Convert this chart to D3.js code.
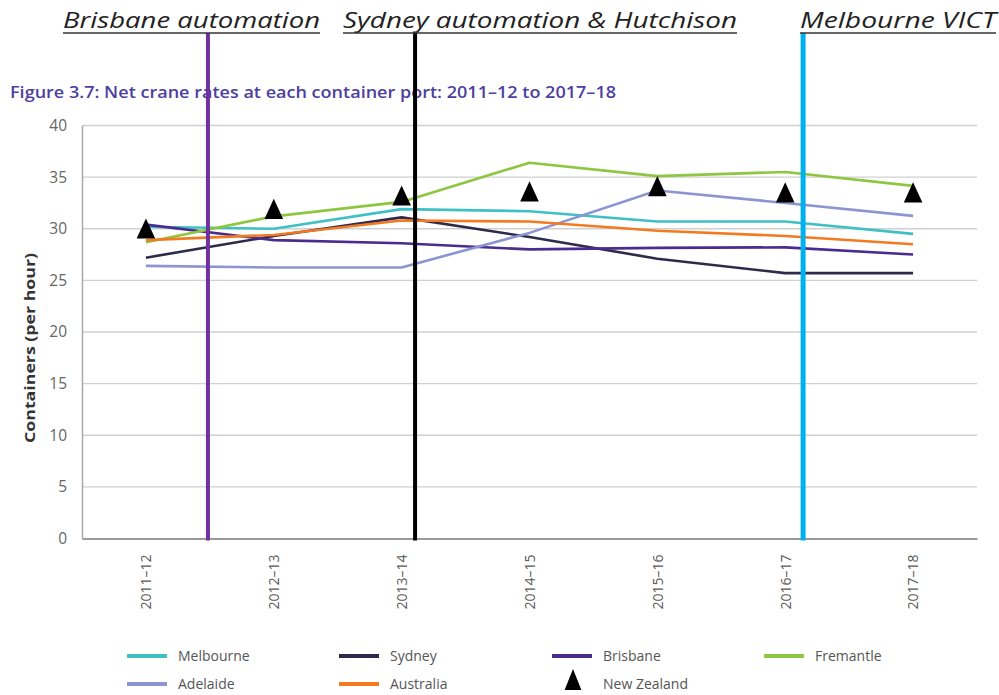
<!DOCTYPE html>
<html>
<head>
<meta charset="utf-8">
<script src="https://cdn.jsdelivr.net/npm/d3@7/dist/d3.min.js"></script>
<style>
  html, body { margin: 0; padding: 0; background: #fff; }
  svg { display: block; }
</style>
</head>
<body>
<svg id="chart" width="999" height="695"></svg>
<script>
// Financial years on the x axis
const years = ["2011–12", "2012–13", "2013–14", "2014–15", "2015–16", "2016–17", "2017–18"];

// Net crane rates (containers per hour) by port
const melbourne = [30.2, 30.0, 31.9, 31.7, 30.7, 30.7, 29.5];
const sydney    = [27.2, 29.3, 31.1, 29.2, 27.1, 25.7, 25.7];
const brisbane  = [30.4, 28.9, 28.6, 28.0, 28.15, 28.2, 27.5];
const fremantle = [28.7, 31.2, 32.6, 36.4, 35.1, 35.5, 34.15];
const adelaide  = [26.4, 26.25, 26.25, 29.6, 33.7, 32.5, 31.25];
const australia = [28.9, 29.4, 30.8, 30.7, 29.8, 29.3, 28.5];
const newZealand = [29.7, 31.6, 32.9, 33.3, 33.8, 33.2, 33.2];

const yTicks = [0, 5, 10, 15, 20, 25, 30, 35, 40];

// Events marked on the timeline (position measured in years from 2011–12)
const eventNames = ["Brisbane automation", "Sydney automation & Hutchison", "Melbourne VICT"];
const eventAt = [0.485, 2.105, 5.14];

const series = [
  { name: "Melbourne", values: melbourne, color: "#3fc0c4" },
  { name: "Sydney",    values: sydney,    color: "#2d2a4c" },
  { name: "Brisbane",  values: brisbane,  color: "#4a2c8f" },
  { name: "Fremantle", values: fremantle, color: "#8dc63f" },
  { name: "Adelaide",  values: adelaide,  color: "#8c95d2" },
  { name: "Australia", values: australia, color: "#f47a22" }
];

const svg = d3.select("#chart");
const plotLeft = 82, plotRight = 977, plotTop = 125.5, plotBottom = 538.5;

const x = d3.scaleLinear().domain([-0.5, years.length - 0.5]).range([plotLeft, plotRight]);
const y = d3.scaleLinear().domain([0, 40]).range([plotBottom, plotTop]);

// Figure caption
svg.append("text")
  .attr("x", 10).attr("y", 98)
  .attr("font-family", "'Open Sans', sans-serif")
  .attr("font-weight", 600)
  .attr("font-size", 16.5)
  .attr("fill", "#4d3f9f")
  .attr("textLength", 606)
  .attr("lengthAdjust", "spacingAndGlyphs")
  .text("Figure 3.7: Net crane rates at each container port: 2011–12 to 2017–18");

// Gridlines
svg.append("g").selectAll("line").data(yTicks.filter(d => d > 0)).join("line")
  .attr("x1", plotLeft).attr("x2", plotRight)
  .attr("y1", d => y(d)).attr("y2", d => y(d))
  .attr("stroke", "#d0d0d0").attr("stroke-width", 1.3);

// Y axis
const yAxis = svg.append("g")
  .attr("transform", `translate(${plotLeft},0)`)
  .call(d3.axisLeft(y).tickValues(yTicks).tickSize(0).tickPadding(15).tickFormat(d3.format("d")));
yAxis.select(".domain").attr("stroke", "#a8a8a8").attr("stroke-width", 1.5);
yAxis.selectAll("text")
  .attr("font-family", "'Open Sans', sans-serif")
  .attr("font-size", 15.5).attr("fill", "#666");

// X axis
const xAxis = svg.append("g")
  .attr("transform", `translate(0,${plotBottom})`)
  .call(d3.axisBottom(x).tickValues(d3.range(years.length)).tickSize(0).tickFormat(i => years[i]));
xAxis.select(".domain").attr("stroke", "#9a9a9a").attr("stroke-width", 2);
xAxis.selectAll("text")
  .attr("font-family", "'Open Sans', sans-serif")
  .attr("font-size", 14).attr("fill", "#5a5a5a")
  .attr("transform", "rotate(-90)")
  .attr("text-anchor", "end")
  .attr("dx", "-16").attr("dy", "0.35em")
  .attr("y", 0);

// Y axis title
svg.append("text")
  .attr("transform", "translate(35,348) rotate(-90)")
  .attr("text-anchor", "middle")
  .attr("font-family", "'Open Sans', sans-serif")
  .attr("font-weight", 700)
  .attr("font-size", 15)
  .attr("fill", "#333")
  .attr("textLength", 190)
  .attr("lengthAdjust", "spacingAndGlyphs")
  .text("Containers (per hour)");

// Port lines
const line = d3.line().x((d, i) => x(i)).y(d => y(d));
svg.append("g").selectAll("path").data(series).join("path")
  .attr("d", d => line(d.values))
  .attr("fill", "none")
  .attr("stroke", d => d.color)
  .attr("stroke-width", 2.6)
  .attr("stroke-linejoin", "round");

// New Zealand markers
const tri = d3.symbol().type(d3.symbolTriangle).size(150);
svg.append("g").selectAll("path").data(newZealand).join("path")
  .attr("transform", (d, i) => `translate(${x(i)},${y(d)}) scale(1,1.25)`)
  .attr("d", tri)
  .attr("fill", "#000");

// Event markers and labels
const eventColors = ["#7030a0", "#000000", "#00b0f0"];
const labelStart = [63, 343, 800];
const labelWidth = [257, 394, 196];
const ev = svg.append("g");
eventAt.forEach((p, k) => {
  ev.append("line")
    .attr("x1", x(p)).attr("x2", x(p))
    .attr("y1", 33).attr("y2", plotBottom + 2)
    .attr("stroke", eventColors[k])
    .attr("stroke-width", k === 2 ? 5 : 4);
  ev.append("text")
    .attr("x", labelStart[k]).attr("y", 28)
    .attr("font-family", "'Open Sans', sans-serif")
    .attr("font-style", "italic")
    .attr("font-size", 21)
    .attr("fill", "#222")
    .attr("textLength", labelWidth[k])
    .attr("lengthAdjust", "spacingAndGlyphs")
    .text(eventNames[k]);
  ev.append("line")
    .attr("x1", labelStart[k]).attr("x2", labelStart[k] + labelWidth[k])
    .attr("y1", 33).attr("y2", 33)
    .attr("stroke", "#333").attr("stroke-width", 1.6);
});

// Legend
const legendItems = [
  { name: "Melbourne", color: "#3fc0c4", lx: 127, ly: 657 },
  { name: "Sydney", color: "#2d2a4c", lx: 339, ly: 657 },
  { name: "Brisbane", color: "#4a2c8f", lx: 552, ly: 657 },
  { name: "Fremantle", color: "#8dc63f", lx: 764, ly: 657 },
  { name: "Adelaide", color: "#8c95d2", lx: 127, ly: 685 },
  { name: "Australia", color: "#f47a22", lx: 339, ly: 685 },
  { name: "New Zealand", color: null, lx: 552, ly: 685 }
];
const lg = svg.append("g");
legendItems.forEach(it => {
  if (it.color) {
    lg.append("line")
      .attr("x1", it.lx).attr("x2", it.lx + 40)
      .attr("y1", it.ly - 1).attr("y2", it.ly - 1)
      .attr("stroke", it.color).attr("stroke-width", 4);
  } else {
    lg.append("path")
      .attr("transform", `translate(${it.lx + 21},${it.ly - 2}) scale(0.9,1.3)`)
      .attr("d", tri)
      .attr("fill", "#000");
  }
  lg.append("text")
    .attr("x", it.lx + 51).attr("y", it.ly + 4)
    .attr("font-family", "'Open Sans', sans-serif")
    .attr("font-size", 14)
    .attr("fill", "#555")
    .text(it.name);
});
</script>
</body>
</html>
